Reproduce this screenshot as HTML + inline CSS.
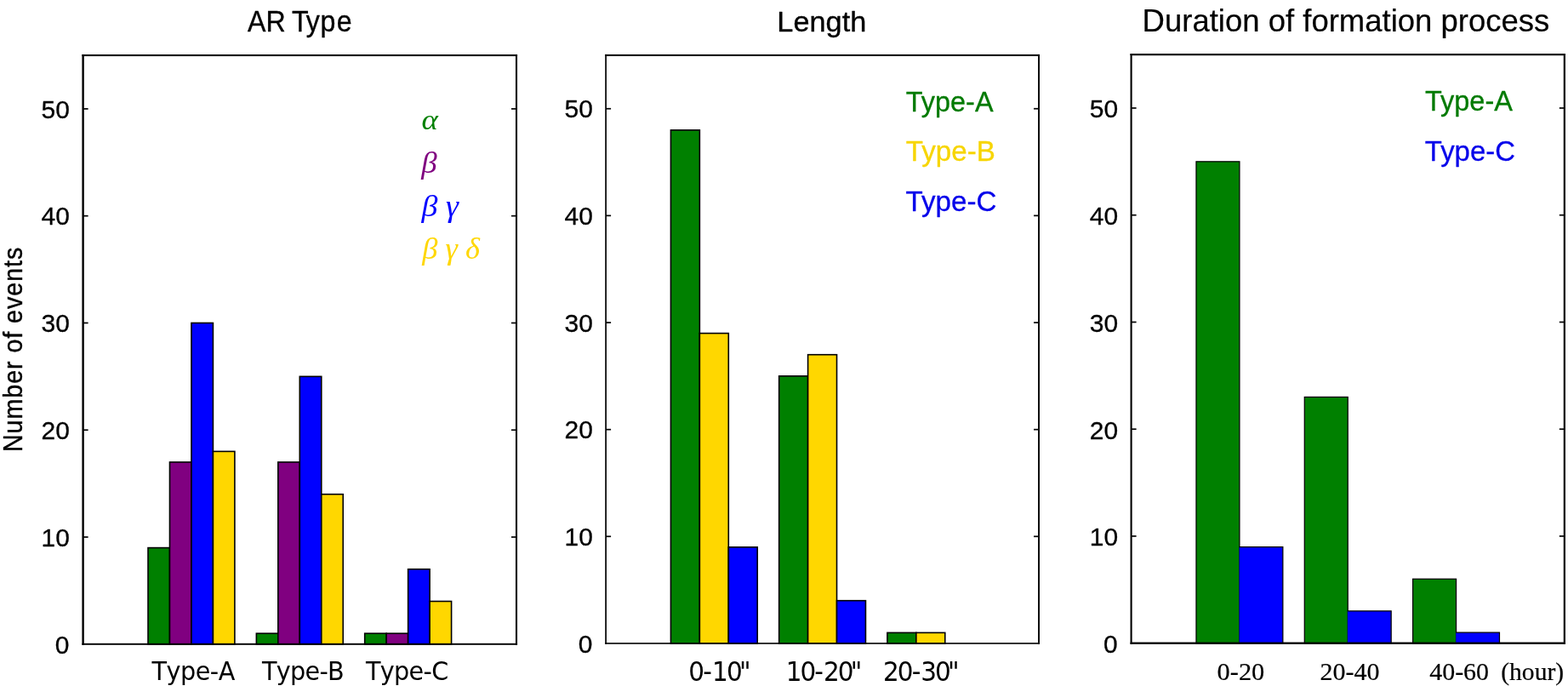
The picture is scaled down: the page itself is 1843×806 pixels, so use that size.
<!DOCTYPE html>
<html lang="en">
<head>
<meta charset="utf-8">
<title>Number of events: AR Type, Length, Duration of formation process</title>
<style>
html,body{margin:0;padding:0;background:#fff;}
body{width:1843px;height:806px;overflow:hidden;}
svg{display:block;}
</style>
</head>
<body>
<svg width="1843" height="806" viewBox="0 0 1843 806" role="img" aria-label="Bar charts of number of events by AR type, length and duration of formation process">
<rect x="0" y="0" width="1843" height="806" fill="#fff"/>
<rect x="174.01" y="643.60" width="25.47" height="113.20" fill="#008000" stroke="#000" stroke-width="1.6"/>
<rect x="199.48" y="542.97" width="25.47" height="213.83" fill="#800080" stroke="#000" stroke-width="1.6"/>
<rect x="224.95" y="379.45" width="25.47" height="377.35" fill="#0000ff" stroke="#000" stroke-width="1.6"/>
<rect x="250.42" y="530.39" width="25.47" height="226.41" fill="#ffd700" stroke="#000" stroke-width="1.6"/>
<rect x="301.36" y="744.22" width="25.47" height="12.58" fill="#008000" stroke="#000" stroke-width="1.6"/>
<rect x="326.83" y="542.97" width="25.47" height="213.83" fill="#800080" stroke="#000" stroke-width="1.6"/>
<rect x="352.30" y="442.35" width="25.47" height="314.45" fill="#0000ff" stroke="#000" stroke-width="1.6"/>
<rect x="377.77" y="580.71" width="25.47" height="176.09" fill="#ffd700" stroke="#000" stroke-width="1.6"/>
<rect x="428.71" y="744.22" width="25.47" height="12.58" fill="#008000" stroke="#000" stroke-width="1.6"/>
<rect x="454.18" y="744.22" width="25.47" height="12.58" fill="#800080" stroke="#000" stroke-width="1.6"/>
<rect x="479.65" y="668.75" width="25.47" height="88.05" fill="#0000ff" stroke="#000" stroke-width="1.6"/>
<rect x="505.12" y="706.49" width="25.47" height="50.31" fill="#ffd700" stroke="#000" stroke-width="1.6"/>
<rect x="788.44" y="152.85" width="33.93" height="603.10" fill="#008000" stroke="#000" stroke-width="1.6"/>
<rect x="822.37" y="391.58" width="33.93" height="364.37" fill="#ffd700" stroke="#000" stroke-width="1.6"/>
<rect x="856.30" y="642.87" width="33.93" height="113.08" fill="#0000ff" stroke="#000" stroke-width="1.6"/>
<rect x="915.68" y="441.84" width="33.93" height="314.11" fill="#008000" stroke="#000" stroke-width="1.6"/>
<rect x="949.61" y="416.71" width="33.93" height="339.24" fill="#ffd700" stroke="#000" stroke-width="1.6"/>
<rect x="983.54" y="705.69" width="33.93" height="50.26" fill="#0000ff" stroke="#000" stroke-width="1.6"/>
<rect x="1042.92" y="743.39" width="33.93" height="12.56" fill="#008000" stroke="#000" stroke-width="1.6"/>
<rect x="1076.85" y="743.39" width="33.93" height="12.56" fill="#ffd700" stroke="#000" stroke-width="1.6"/>
<rect x="1405.99" y="189.85" width="50.93" height="565.85" fill="#008000" stroke="#000" stroke-width="1.25"/>
<rect x="1456.66" y="642.53" width="51.18" height="113.17" fill="#0000ff"/>
<path d="M1456.66 642.53H1507.84V755.70" fill="none" stroke="#000" stroke-width="1.25"/>
<rect x="1533.30" y="466.49" width="50.93" height="289.21" fill="#008000" stroke="#000" stroke-width="1.25"/>
<rect x="1583.97" y="717.98" width="51.18" height="37.72" fill="#0000ff"/>
<path d="M1583.97 717.98H1635.15V755.70" fill="none" stroke="#000" stroke-width="1.25"/>
<rect x="1660.61" y="680.25" width="50.93" height="75.45" fill="#008000" stroke="#000" stroke-width="1.25"/>
<rect x="1711.29" y="743.13" width="51.18" height="12.57" fill="#0000ff"/>
<path d="M1711.29 743.13H1762.46V755.70" fill="none" stroke="#000" stroke-width="1.25"/>
<rect x="96.40" y="63.95" width="2.40" height="693.80" fill="#000"/>
<rect x="605.95" y="63.95" width="2.10" height="693.80" fill="#000"/>
<rect x="96.40" y="63.95" width="511.65" height="2.10" fill="#000"/>
<rect x="96.40" y="755.85" width="511.65" height="1.90" fill="#000"/>
<line x1="97.60" y1="631.02" x2="103.60" y2="631.02" stroke="#000" stroke-width="1.7"/>
<line x1="607.00" y1="631.02" x2="601.00" y2="631.02" stroke="#000" stroke-width="1.7"/>
<line x1="97.60" y1="505.24" x2="103.60" y2="505.24" stroke="#000" stroke-width="1.7"/>
<line x1="607.00" y1="505.24" x2="601.00" y2="505.24" stroke="#000" stroke-width="1.7"/>
<line x1="97.60" y1="379.45" x2="103.60" y2="379.45" stroke="#000" stroke-width="1.7"/>
<line x1="607.00" y1="379.45" x2="601.00" y2="379.45" stroke="#000" stroke-width="1.7"/>
<line x1="97.60" y1="253.67" x2="103.60" y2="253.67" stroke="#000" stroke-width="1.7"/>
<line x1="607.00" y1="253.67" x2="601.00" y2="253.67" stroke="#000" stroke-width="1.7"/>
<line x1="97.60" y1="127.89" x2="103.60" y2="127.89" stroke="#000" stroke-width="1.7"/>
<line x1="607.00" y1="127.89" x2="601.00" y2="127.89" stroke="#000" stroke-width="1.7"/>
<rect x="711.25" y="63.90" width="1.70" height="692.85" fill="#000"/>
<rect x="1220.10" y="63.90" width="1.90" height="692.85" fill="#000"/>
<rect x="711.25" y="63.90" width="510.75" height="2.00" fill="#000"/>
<rect x="711.25" y="755.15" width="510.75" height="1.60" fill="#000"/>
<line x1="712.10" y1="630.30" x2="718.10" y2="630.30" stroke="#000" stroke-width="1.7"/>
<line x1="1221.05" y1="630.30" x2="1215.05" y2="630.30" stroke="#000" stroke-width="1.7"/>
<line x1="712.10" y1="504.66" x2="718.10" y2="504.66" stroke="#000" stroke-width="1.7"/>
<line x1="1221.05" y1="504.66" x2="1215.05" y2="504.66" stroke="#000" stroke-width="1.7"/>
<line x1="712.10" y1="379.01" x2="718.10" y2="379.01" stroke="#000" stroke-width="1.7"/>
<line x1="1221.05" y1="379.01" x2="1215.05" y2="379.01" stroke="#000" stroke-width="1.7"/>
<line x1="712.10" y1="253.37" x2="718.10" y2="253.37" stroke="#000" stroke-width="1.7"/>
<line x1="1221.05" y1="253.37" x2="1215.05" y2="253.37" stroke="#000" stroke-width="1.7"/>
<line x1="712.10" y1="127.72" x2="718.10" y2="127.72" stroke="#000" stroke-width="1.7"/>
<line x1="1221.05" y1="127.72" x2="1215.05" y2="127.72" stroke="#000" stroke-width="1.7"/>
<rect x="1328.55" y="63.00" width="2.10" height="693.85" fill="#000"/>
<rect x="1837.75" y="63.00" width="2.20" height="693.85" fill="#000"/>
<rect x="1328.55" y="63.00" width="511.40" height="2.20" fill="#000"/>
<rect x="1328.55" y="754.55" width="511.40" height="2.30" fill="#000"/>
<line x1="1329.60" y1="629.95" x2="1335.60" y2="629.95" stroke="#000" stroke-width="1.7"/>
<line x1="1838.85" y1="629.95" x2="1832.85" y2="629.95" stroke="#000" stroke-width="1.7"/>
<line x1="1329.60" y1="504.21" x2="1335.60" y2="504.21" stroke="#000" stroke-width="1.7"/>
<line x1="1838.85" y1="504.21" x2="1832.85" y2="504.21" stroke="#000" stroke-width="1.7"/>
<line x1="1329.60" y1="378.46" x2="1335.60" y2="378.46" stroke="#000" stroke-width="1.7"/>
<line x1="1838.85" y1="378.46" x2="1832.85" y2="378.46" stroke="#000" stroke-width="1.7"/>
<line x1="1329.60" y1="252.72" x2="1335.60" y2="252.72" stroke="#000" stroke-width="1.7"/>
<line x1="1838.85" y1="252.72" x2="1832.85" y2="252.72" stroke="#000" stroke-width="1.7"/>
<line x1="1329.60" y1="126.97" x2="1335.60" y2="126.97" stroke="#000" stroke-width="1.7"/>
<line x1="1838.85" y1="126.97" x2="1832.85" y2="126.97" stroke="#000" stroke-width="1.7"/>
<text transform="translate(291.00,37.30) scale(0.9395,1)" font-family='"Liberation Sans", sans-serif' font-size="34.2" dx="0.00 0.00 0.00 -1.10 -1.10 0.70 1.50" fill="#000" stroke="#000" stroke-width="0.35" stroke-linejoin="round">AR Type</text>
<text transform="translate(913.37,37.30) scale(1.0091,1)" font-family='"Liberation Sans", sans-serif' font-size="34.0" fill="#000" stroke="#000" stroke-width="0.35" stroke-linejoin="round">Length</text>
<text transform="translate(1342.56,37.30) scale(1.0141,1)" font-family='"Liberation Sans", sans-serif' font-size="36.0" fill="#000" stroke="#000" stroke-width="0.2" stroke-linejoin="round">Duration of formation process</text>
<text transform="translate(25.60,531.04) rotate(-90) scale(0.9200,1)" font-family='"Liberation Sans", sans-serif' font-size="31.2" letter-spacing="1.003" fill="#000" stroke="#000" stroke-width="0.4" stroke-linejoin="round">Number of events</text>
<text transform="translate(64.74,767.55) scale(1.0100,1)" font-family='"Liberation Sans", sans-serif' font-size="29.7" fill="#000" stroke="#000" stroke-width="0.3" stroke-linejoin="round">0</text>
<text transform="translate(48.58,641.77) scale(1.0100,1)" font-family='"Liberation Sans", sans-serif' font-size="29.7" fill="#000" stroke="#000" stroke-width="0.3" stroke-linejoin="round">10</text>
<text transform="translate(48.58,515.99) scale(1.0100,1)" font-family='"Liberation Sans", sans-serif' font-size="29.7" fill="#000" stroke="#000" stroke-width="0.3" stroke-linejoin="round">20</text>
<text transform="translate(48.58,390.20) scale(1.0100,1)" font-family='"Liberation Sans", sans-serif' font-size="29.7" fill="#000" stroke="#000" stroke-width="0.3" stroke-linejoin="round">30</text>
<text transform="translate(48.58,264.42) scale(1.0100,1)" font-family='"Liberation Sans", sans-serif' font-size="29.7" fill="#000" stroke="#000" stroke-width="0.3" stroke-linejoin="round">40</text>
<text transform="translate(48.58,138.64) scale(1.0100,1)" font-family='"Liberation Sans", sans-serif' font-size="29.7" fill="#000" stroke="#000" stroke-width="0.3" stroke-linejoin="round">50</text>
<text transform="translate(679.74,766.70) scale(1.0100,1)" font-family='"Liberation Sans", sans-serif' font-size="29.7" fill="#000" stroke="#000" stroke-width="0.3" stroke-linejoin="round">0</text>
<text transform="translate(663.58,641.05) scale(1.0100,1)" font-family='"Liberation Sans", sans-serif' font-size="29.7" fill="#000" stroke="#000" stroke-width="0.3" stroke-linejoin="round">10</text>
<text transform="translate(663.58,515.41) scale(1.0100,1)" font-family='"Liberation Sans", sans-serif' font-size="29.7" fill="#000" stroke="#000" stroke-width="0.3" stroke-linejoin="round">20</text>
<text transform="translate(663.58,389.76) scale(1.0100,1)" font-family='"Liberation Sans", sans-serif' font-size="29.7" fill="#000" stroke="#000" stroke-width="0.3" stroke-linejoin="round">30</text>
<text transform="translate(663.58,264.12) scale(1.0100,1)" font-family='"Liberation Sans", sans-serif' font-size="29.7" fill="#000" stroke="#000" stroke-width="0.3" stroke-linejoin="round">40</text>
<text transform="translate(663.58,138.47) scale(1.0100,1)" font-family='"Liberation Sans", sans-serif' font-size="29.7" fill="#000" stroke="#000" stroke-width="0.3" stroke-linejoin="round">50</text>
<text transform="translate(1296.94,767.20) scale(1.0100,1)" font-family='"Liberation Sans", sans-serif' font-size="29.7" fill="#000" stroke="#000" stroke-width="0.3" stroke-linejoin="round">0</text>
<text transform="translate(1280.78,641.45) scale(1.0100,1)" font-family='"Liberation Sans", sans-serif' font-size="29.7" fill="#000" stroke="#000" stroke-width="0.3" stroke-linejoin="round">10</text>
<text transform="translate(1280.78,515.71) scale(1.0100,1)" font-family='"Liberation Sans", sans-serif' font-size="29.7" fill="#000" stroke="#000" stroke-width="0.3" stroke-linejoin="round">20</text>
<text transform="translate(1280.78,389.96) scale(1.0100,1)" font-family='"Liberation Sans", sans-serif' font-size="29.7" fill="#000" stroke="#000" stroke-width="0.3" stroke-linejoin="round">30</text>
<text transform="translate(1280.78,264.22) scale(1.0100,1)" font-family='"Liberation Sans", sans-serif' font-size="29.7" fill="#000" stroke="#000" stroke-width="0.3" stroke-linejoin="round">40</text>
<text transform="translate(1280.78,138.47) scale(1.0100,1)" font-family='"Liberation Sans", sans-serif' font-size="29.7" fill="#000" stroke="#000" stroke-width="0.3" stroke-linejoin="round">50</text>
<text transform="translate(178.50,799.20) scale(0.9750,1)" font-family='"DejaVu Sans", sans-serif' font-size="29.4" letter-spacing="-0.503" style="font-kerning:none" fill="#000" stroke="#000" stroke-width="0" stroke-linejoin="round">Type-A</text>
<text transform="translate(308.10,799.20) scale(0.9750,1)" font-family='"DejaVu Sans", sans-serif' font-size="29.4" letter-spacing="-0.754" style="font-kerning:none" fill="#000" stroke="#000" stroke-width="0" stroke-linejoin="round">Type-B</text>
<text transform="translate(430.00,799.20) scale(0.9750,1)" font-family='"DejaVu Sans", sans-serif' font-size="29.4" letter-spacing="-0.708" style="font-kerning:none" fill="#000" stroke="#000" stroke-width="0" stroke-linejoin="round">Type-C</text>
<text transform="translate(809.32,799.50) scale(0.9400,1)" font-family='"DejaVu Sans", sans-serif' font-size="31.4" letter-spacing="-1.926" style="font-kerning:none" dx="0.00 0.00 2.00 0.00 -2.00" fill="#000" stroke="#000" stroke-width="0" stroke-linejoin="round">0-10&quot;</text>
<text transform="translate(923.68,799.50) scale(0.9400,1)" font-family='"DejaVu Sans", sans-serif' font-size="31.4" letter-spacing="-2.064" style="font-kerning:none" dx="0.00 0.00 0.00 2.00 0.00 -2.00" fill="#000" stroke="#000" stroke-width="0" stroke-linejoin="round">10-20&quot;</text>
<text transform="translate(1037.92,799.50) scale(0.9400,1)" font-family='"DejaVu Sans", sans-serif' font-size="31.4" letter-spacing="-2.051" style="font-kerning:none" dx="0.00 0.00 0.00 2.00 0.00 -2.00" fill="#000" stroke="#000" stroke-width="0" stroke-linejoin="round">20-30&quot;</text>
<text transform="translate(1430.57,799.30) scale(1.0269,1)" font-family='"Liberation Serif", serif' font-size="29.6" fill="#000" stroke="#000" stroke-width="0.2" stroke-linejoin="round">0-20</text>
<text transform="translate(1551.49,799.30) scale(1.0149,1)" font-family='"Liberation Serif", serif' font-size="29.6" fill="#000" stroke="#000" stroke-width="0.2" stroke-linejoin="round">20-40</text>
<text transform="translate(1680.20,799.30) scale(1.0118,1)" font-family='"Liberation Serif", serif' font-size="29.6" fill="#000" stroke="#000" stroke-width="0.2" stroke-linejoin="round">40-60</text>
<text transform="translate(1764.20,799.30) scale(1.0000,1)" font-family='"Liberation Serif", serif' font-size="29.6" fill="#000" stroke="#000" stroke-width="0.2" stroke-linejoin="round">(hour)</text>
<text transform="translate(495.62,152.10) scale(1.0824,1)" font-family='"Liberation Serif", serif' font-size="34" font-style="italic" fill="#008000" stroke="#008000" stroke-width="0" stroke-linejoin="round">α</text>
<text transform="translate(495.20,202.80) scale(1.0471,1)" font-family='"Liberation Serif", serif' font-size="35.3" font-style="italic" fill="#800080" stroke="#800080" stroke-width="0" stroke-linejoin="round">β</text>
<text transform="translate(495.50,253.70) scale(1.0756,1)" font-family='"Liberation Serif", serif' font-size="35.3" font-style="italic" fill="#0000ff" stroke="#0000ff" stroke-width="0" stroke-linejoin="round">β γ</text>
<text transform="translate(496.20,304.40) scale(1.0333,1)" font-family='"Liberation Serif", serif' font-size="35.3" font-style="italic" fill="#ffd700" stroke="#ffd700" stroke-width="0" stroke-linejoin="round">β γ δ</text>
<text transform="translate(1064.82,131.30) scale(0.9798,1)" font-family='"Liberation Sans", sans-serif' font-size="33.1" fill="#007a00" stroke="#007a00" stroke-width="0.3" stroke-linejoin="round">Type-A</text>
<text transform="translate(1064.80,189.20) scale(1.0020,1)" font-family='"Liberation Sans", sans-serif' font-size="33.1" fill="#f7d500" stroke="#f7d500" stroke-width="0.3" stroke-linejoin="round">Type-B</text>
<text transform="translate(1064.60,247.50) scale(1.0019,1)" font-family='"Liberation Sans", sans-serif' font-size="33.1" fill="#0400ea" stroke="#0400ea" stroke-width="0.3" stroke-linejoin="round">Type-C</text>
<text transform="translate(1675.03,130.20) scale(0.9667,1)" font-family='"Liberation Sans", sans-serif' font-size="33.6" fill="#007a00" stroke="#007a00" stroke-width="0.3" stroke-linejoin="round">Type-A</text>
<text transform="translate(1674.82,189.00) scale(0.9811,1)" font-family='"Liberation Sans", sans-serif' font-size="33.6" fill="#0400ea" stroke="#0400ea" stroke-width="0.3" stroke-linejoin="round">Type-C</text>
</svg>
</body>
</html>
